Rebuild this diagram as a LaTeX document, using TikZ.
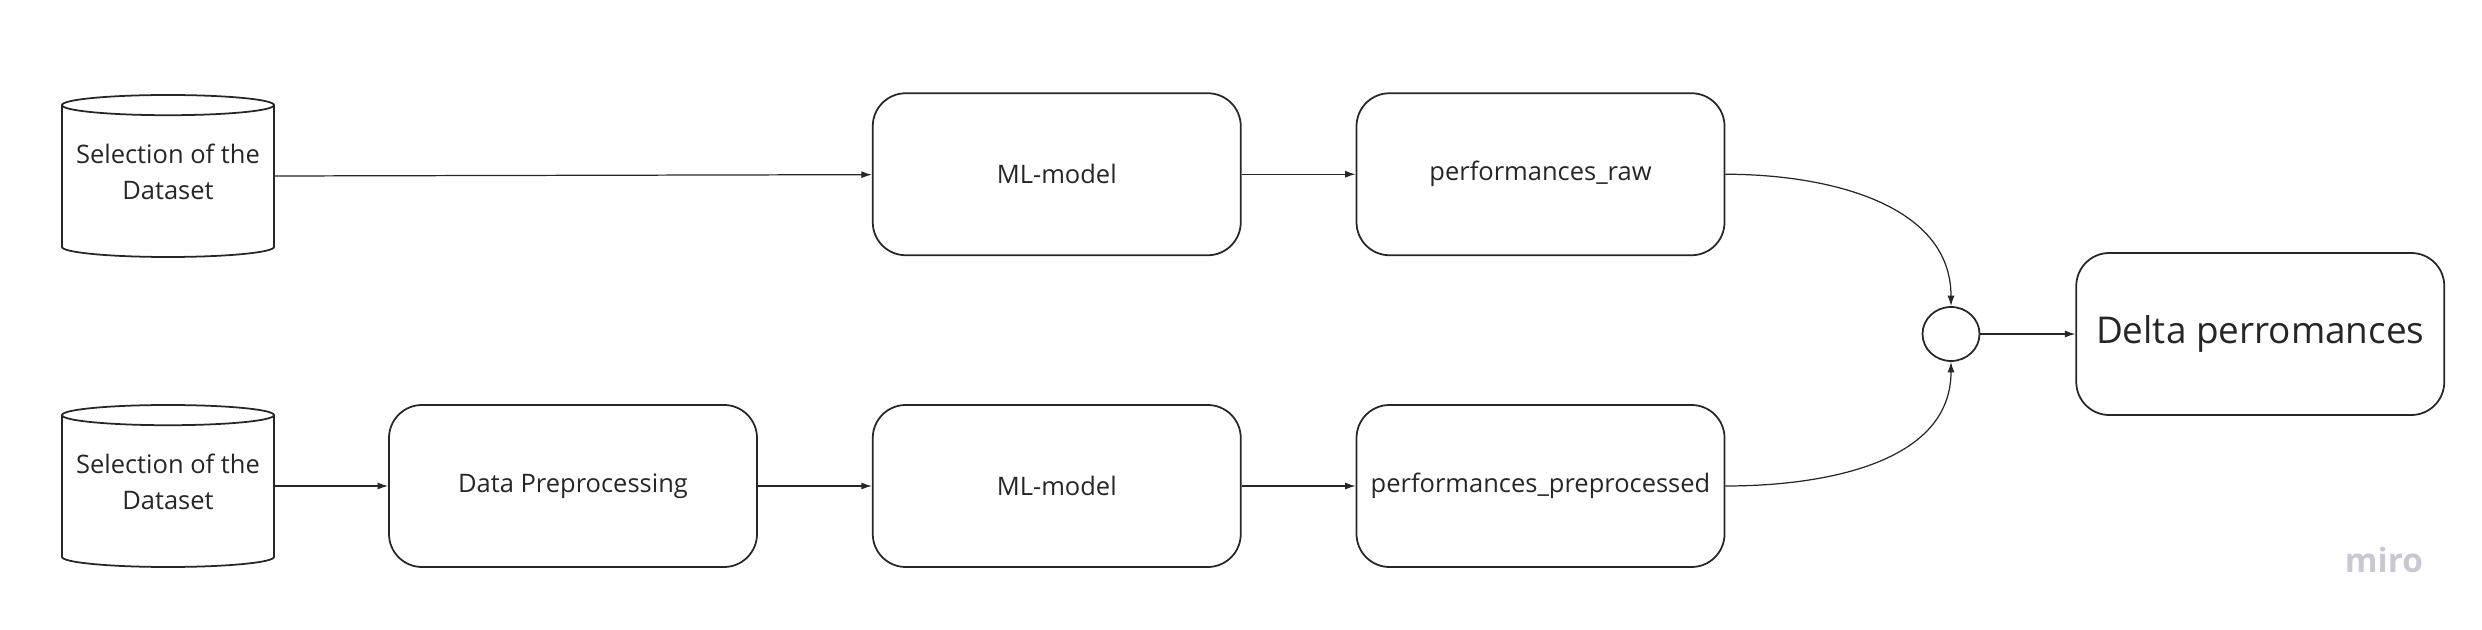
\documentclass[tikz,border=0pt]{standalone}
\usepackage{fontspec}
\setmainfont{Open Sans}
\usepackage{xcolor}
\usetikzlibrary{arrows.meta,positioning,shapes.geometric}
\definecolor{ink}{RGB}{38,38,38}
\definecolor{mirogray}{RGB}{200,200,212}
\tikzset{
  stagebox/.style={draw=ink,line width=0.5pt,rounded corners=0.33cm,
    minimum width=3.68cm,minimum height=1.62cm,align=center,text=ink,inner sep=1pt},
  dbnode/.style={draw=ink,line width=0.5pt,cylinder,shape border rotate=90,
    aspect=0.11,minimum width=2.12cm,minimum height=1.62cm,align=center,
    text=ink,inner sep=0pt,text depth=0.19cm,anchor=shape center},
  flow/.style={->,line width=0.35pt,draw=ink}
}
\begin{document}
\begin{tikzpicture}[font=\fontsize{7.25}{10.2}\selectfont,>={Latex[length=3pt,width=2pt]},
    node distance=1.14cm]
\useasboundingbox (0,0) rectangle (24.82,6.29);
% preprocessed branch (bottom)
\node[dbnode] (data2) at (1.68,1.43) {Selection of the\\Dataset};
\node[stagebox] (prep) at (5.73,1.43) {Data Preprocessing};
\node[stagebox,right=of prep] (model2) {ML-model};
\node[stagebox,right=of model2] (perf2) {performances\_preprocessed};
% raw branch (top)
\node[dbnode] (data1) at (1.68,4.53) {Selection of the\\Dataset};
\node[stagebox,above=1.48cm of model2] (model1) {ML-model};
\node[stagebox,above=1.48cm of perf2] (perf1) {performances\_raw};
% comparison
\node[draw=ink,line width=0.5pt,ellipse,minimum width=0.57cm,minimum height=0.54cm,inner sep=0pt] (diff) at (19.51,2.95) {};
\node[stagebox,right=0.95cm of diff,font=\fontsize{10.5}{13}\selectfont] (delta) {Delta perromances};
\draw[flow] (data1.shape center -| data1.east) -- (model1);
\draw[flow] (model1) -- (perf1);
\draw[flow] (data2.shape center -| data2.east) -- (prep);
\draw[flow] (prep) -- (model2);
\draw[flow] (model2) -- (perf2);
\draw[flow] (perf1.east) to[out=0,in=90] (diff.north);
\draw[flow] (perf2.east) to[out=0,in=-90] (diff.south);
\draw[flow] (diff) -- (delta);
\node[text=mirogray,font=\fontsize{9.5}{11}\selectfont\bfseries] (logo) at (23.84,0.69) {miro};
\end{tikzpicture}
\end{document}
